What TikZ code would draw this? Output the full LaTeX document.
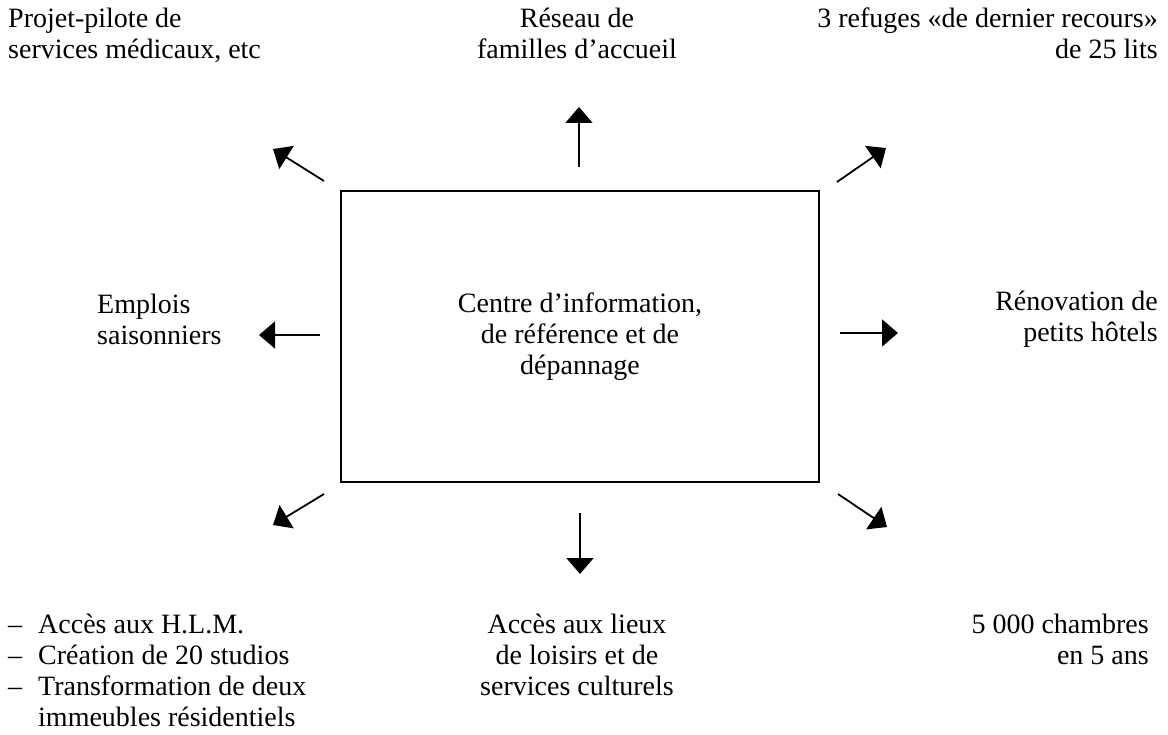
\documentclass[tikz,border=0pt]{standalone}
\usepackage{fontspec}
\setmainfont{Liberation Serif}
\usetikzlibrary{arrows.meta}
\tikzset{
  arr/.style={line width=1.8pt,-{Triangle[length=16pt,width=27pt]}},
  lbl/.style={inner sep=0,font=\fontsize{28}{31}\selectfont}
}
\begin{document}
\begin{tikzpicture}[x=1pt,y=-1pt]
  \useasboundingbox (0,0) rectangle (1168,735);

  \node (centre) at (580,336.5) [draw,rectangle,line width=1.6pt,minimum width=478pt,minimum height=291pt,align=center,lbl]{Centre d’information,\\de référence et de\\dépannage};

  \node (pilote) at (8,8) [lbl,anchor=north west,align=left]{Projet-pilote de\\services médicaux, etc};
  \node (reseau) at (577,8) [lbl,anchor=north,align=center]{Réseau de\\familles d’accueil};
  \node (refuges) at (1158,8) [lbl,anchor=north east,align=right]{3 refuges «de dernier recours»\\de 25 lits};
  \node (emplois) at (97,319) [lbl,anchor=west,align=left]{Emplois\\saisonniers};
  \node (hotels) at (1158,319) [lbl,anchor=east,align=right]{Rénovation de\\petits hôtels};
  \node (hlm) at (8,614) [lbl,anchor=north west,align=left]{\makebox[30pt][l]{–}Accès aux H.L.M.\\\makebox[30pt][l]{–}Création de 20 studios\\\makebox[30pt][l]{–}Transformation de deux\\\hspace*{30pt}immeubles résidentiels};
  \node (loisirs) at (577,614) [lbl,anchor=north,align=center]{Accès aux lieux\\de loisirs et de\\services culturels};
  \node (chambres) at (1149,614) [lbl,anchor=north east,align=right]{5 000 chambres\\en 5 ans};

  % arrow ends
  \coordinate (ulstart) at (324,181);  \coordinate (ulend) at (273,149);
  \coordinate (ustart) at (579,167);   \coordinate (uend) at (579,107);
  \coordinate (urstart) at (837,182);  \coordinate (urend) at (886,148);
  \coordinate (lstart) at (320,335);   \coordinate (lend) at (259,335);
  \coordinate (rstart) at (840,333);   \coordinate (rend) at (898,333);
  \coordinate (llstart) at (324,494);  \coordinate (llend) at (273,525);
  \coordinate (dstart) at (580,513);   \coordinate (dend) at (580,574);
  \coordinate (lrstart) at (838,494);  \coordinate (lrend) at (887,527);

  \foreach \a in {ul,u,ur,l,r,ll,d,lr}
    \draw[arr] (\a start) -- (\a end);

\end{tikzpicture}
\end{document}
